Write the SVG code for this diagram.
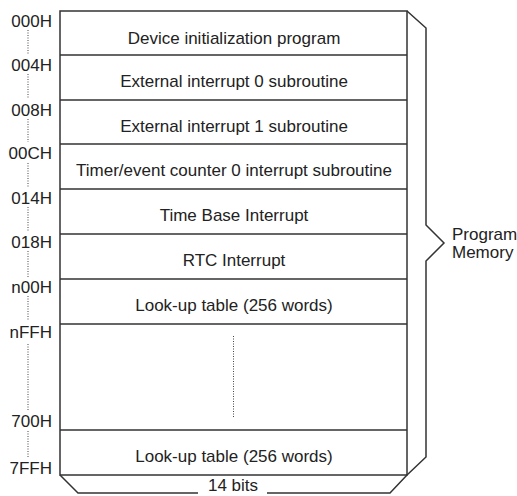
<svg xmlns="http://www.w3.org/2000/svg" width="517" height="496" viewBox="0 0 517 496">
<style>
text{font-family:"Liberation Sans",Arial,sans-serif;font-size:17px;fill:#222}
.c{text-anchor:middle}
.r{text-anchor:end}
.ln{stroke:#333;stroke-width:1.5;fill:none}
.dot{stroke:#444;stroke-width:1;stroke-dasharray:1 1.5;fill:none}
</style>
<rect width="517" height="496" fill="#fff"/>
<g id="addresses">
<text class="r" x="52" y="27">000H</text>
<text class="r" x="52" y="71">004H</text>
<text class="r" x="52" y="116">008H</text>
<text class="r" x="52" y="159">00CH</text>
<text class="r" x="52" y="204">014H</text>
<text class="r" x="52" y="248">018H</text>
<text class="r" x="52" y="293">n00H</text>
<text class="r" x="52" y="338">nFFH</text>
<text class="r" x="52" y="427">700H</text>
<text class="r" x="52" y="474">7FFH</text>
<path class="dot" d="M28 30V55M28 74V98M28 119V142M28 163V187M28 207V232M28 251V277M28 296V321M28 344V410M28 431V457"/>
</g>
<g id="memory">
<rect class="ln" x="60" y="11" width="347" height="464"/>
<path class="ln" d="M60 55H407M60 100H407M60 144H407M60 189H407M60 234H407M60 279H407M60 324H407M60 430H407"/>
<text class="c" x="234" y="44">Device initialization program</text>
<text class="c" x="234" y="87">External interrupt 0 subroutine</text>
<text class="c" x="234" y="132">External interrupt 1 subroutine</text>
<text class="c" x="234" y="176">Timer/event counter 0 interrupt subroutine</text>
<text class="c" x="234" y="221">Time Base Interrupt</text>
<text class="c" x="234" y="266">RTC Interrupt</text>
<text class="c" x="234" y="311">Look-up table (256 words)</text>
<text class="c" x="234" y="462">Look-up table (256 words)</text>
<path class="dot" d="M233.5 336V417"/>
</g>
<g id="program-memory">
<path class="ln" d="M407 11L426 28V225L444 243L426 261V457L407 475"/>
<text x="452" y="240">Program</text>
<text x="452" y="258">Memory</text>
</g>
<g id="width">
<path class="ln" d="M60 475L78 493H198M267 493H390L407 475"/>
<text class="c" x="233" y="491">14 bits</text>
</g>
</svg>
